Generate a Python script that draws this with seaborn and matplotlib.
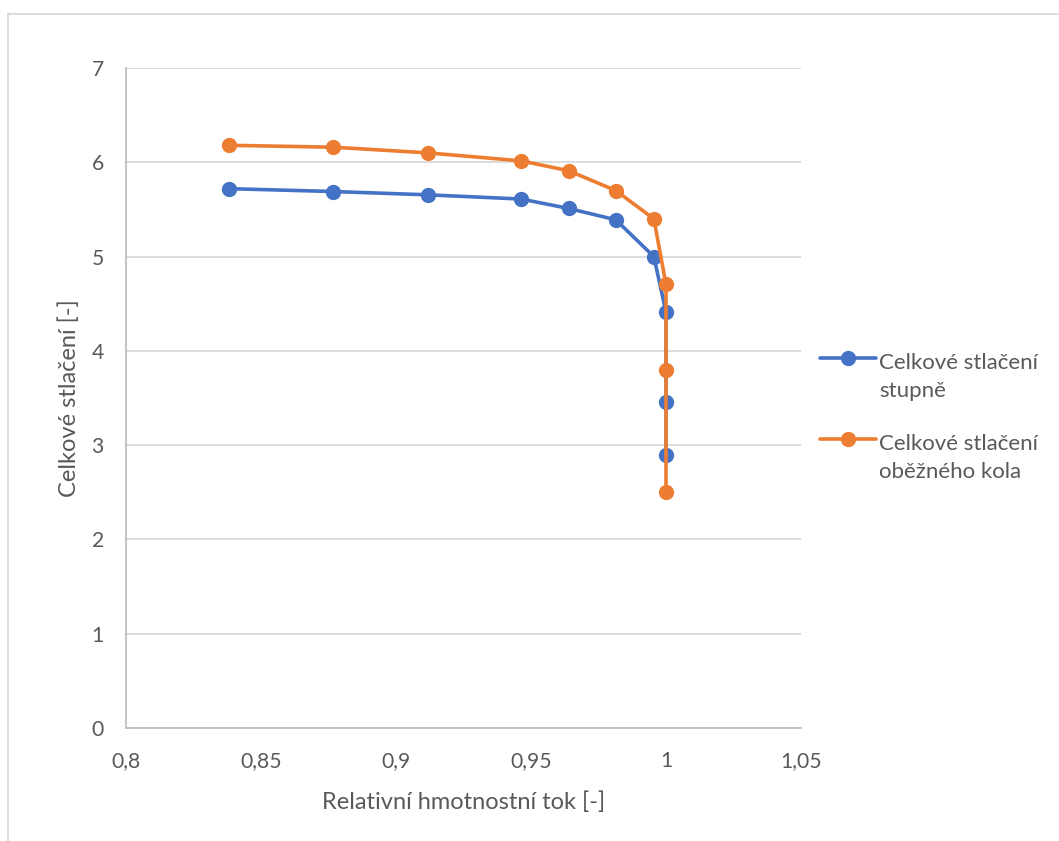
import numpy as np
import pandas as pd
import seaborn as sns
import matplotlib
matplotlib.use("Agg")
import matplotlib.pyplot as plt
from matplotlib.legend_handler import HandlerLine2D
from matplotlib.patches import Rectangle
from matplotlib.ticker import FixedLocator, FuncFormatter

# Relative mass flow and total pressure ratio for the stage and the impeller
flow_stage = [0.8383, 0.8767, 0.9117, 0.9464, 0.9640, 0.9814, 0.9955, 1.0, 1.0, 1.0]
ratio_stage = [5.72, 5.69, 5.655, 5.61, 5.51, 5.39, 5.00, 4.41, 3.46, 2.90]

flow_impeller = [0.8383, 0.8767, 0.9117, 0.9464, 0.9640, 0.9814, 0.9955, 1.0, 1.0, 1.0]
ratio_impeller = [6.18, 6.16, 6.10, 6.015, 5.91, 5.70, 5.40, 4.705, 3.80, 2.50]

series_names = ["Celkové stlačení\nstupně", "Celkové stlačení\noběžného kola"]
series_colors = ["#4472C4", "#ED7D31"]

x_ticks = [0.8, 0.85, 0.9, 0.95, 1.0, 1.05]
y_ticks = [0, 1, 2, 3, 4, 5, 6, 7]
x_title = "Relativní hmotnostní tok [-]"
y_title = "Celkové stlačení [-]"

sns.set_theme(style="white")
plt.rcParams["font.family"] = ["Lato", "DejaVu Sans"]

text_color = "#595959"
grid_color = "#D9D9D9"
axis_color = "#BFBFBF"

fig = plt.figure(figsize=(10.59, 8.41), dpi=100)
ax = fig.add_axes([126 / 1059, 1 - 728 / 841, (801 - 126) / 1059, (728 - 68) / 841])

df = pd.concat([
    pd.DataFrame({"flow": flow_stage, "ratio": ratio_stage, "series": series_names[0]}),
    pd.DataFrame({"flow": flow_impeller, "ratio": ratio_impeller, "series": series_names[1]}),
])

sns.lineplot(data=df, x="flow", y="ratio", hue="series", sort=False,
             palette=series_colors, hue_order=series_names, estimator=None,
             marker="o", markersize=11, markeredgewidth=0, linewidth=2.6,
             ax=ax, legend=False, zorder=3)

ax.set_xlim(0.8, 1.05)
ax.set_ylim(0, 7)
ax.xaxis.set_major_locator(FixedLocator(x_ticks))
ax.yaxis.set_major_locator(FixedLocator(y_ticks))


def comma_fmt(v, pos):
    s = f"{v:.2f}".rstrip("0").rstrip(".")
    return s.replace(".", ",")


ax.xaxis.set_major_formatter(FuncFormatter(comma_fmt))
ax.yaxis.set_major_formatter(FuncFormatter(lambda v, p: f"{int(round(v))}"))

ax.grid(axis="y", color=grid_color, linewidth=1.3)
ax.grid(axis="x", visible=False)
ax.set_axisbelow(True)
for side in ["top", "right"]:
    ax.spines[side].set_visible(False)
for side in ["left", "bottom"]:
    ax.spines[side].set_color(axis_color)
    ax.spines[side].set_linewidth(1.3)

ax.tick_params(axis="both", length=0, labelsize=15.2, colors=text_color)
ax.tick_params(axis="x", pad=16.5)
ax.tick_params(axis="y", pad=16)
ax.set_xlabel(x_title, fontsize=17, color=text_color, labelpad=15)
ax.set_ylabel(y_title, fontsize=17, color=text_color, labelpad=8)


class FirstLineHandler(HandlerLine2D):
    """Aligns the legend handle with the first line of a two-line label."""
    def create_artists(self, legend, orig_handle, xdescent, ydescent,
                       width, height, fontsize, trans):
        return super().create_artists(legend, orig_handle, xdescent,
                                      ydescent - 1.75 * fontsize, width, height,
                                      fontsize, trans)


handles = [plt.Line2D([], [], color=c, marker="o", markersize=11,
                      markeredgewidth=0, linewidth=2.6) for c in series_colors]
leg = fig.legend(handles, series_names, loc="center left",
                 bbox_to_anchor=(820 / 1059, 1 - 417.5 / 841),
                 frameon=False, fontsize=16, handlelength=2.5,
                 handletextpad=0.15, labelspacing=1.5, borderpad=0,
                 borderaxespad=0,
                 handler_map={plt.Line2D: FirstLineHandler()})
for t in leg.get_texts():
    t.set_color(text_color)
    t.set_linespacing(1.5)

# Chart area frame
fig.patches.append(Rectangle((8 / 1059, -0.05), 1.2, 1 - 14 / 841 + 0.05,
                             transform=fig.transFigure, fill=False,
                             edgecolor=grid_color, linewidth=1.3))

fig.savefig("out.png", dpi=100)
